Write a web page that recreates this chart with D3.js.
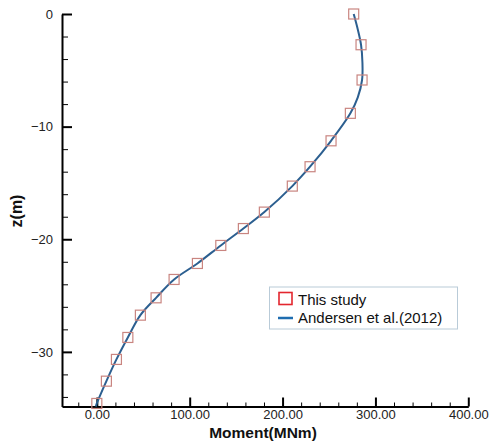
<!DOCTYPE html>
<html>
<head>
<meta charset="utf-8">
<script src="https://cdn.jsdelivr.net/npm/d3@7"></script>
<style>
  html, body { margin: 0; padding: 0; background: #fff; }
  svg { display: block; }
</style>
</head>
<body>
<svg id="chart" width="492" height="447"></svg>
<script>
// ---- Data ----
const studyMoment = [276.6, 284.5, 285.6, 273.0, 252.2, 229.6, 210.5, 180.4, 157.8, 133.5, 108.3, 83.2, 63.8, 46.9, 33.4, 21.1, 10.3, 0.0];
const studyZ      = [0, -2.73, -5.86, -8.82, -11.26, -13.56, -15.28, -17.59, -19.05, -20.55, -22.15, -23.57, -25.2, -26.74, -28.72, -30.67, -32.6, -34.58];

const andersenMoment = [276.6, 280.5, 284.5, 286.0, 285.6, 281.0, 273.0, 252.2, 229.6, 210.5, 180.4, 157.8, 133.5, 108.3, 83.2, 63.8, 46.9, 33.4, 21.1, 10.3, 0.0, -1.0];
const andersenZ      = [0, -1.2, -2.73, -4.3, -5.86, -7.4, -8.82, -11.26, -13.56, -15.28, -17.59, -19.05, -20.55, -22.15, -23.57, -25.2, -26.74, -28.72, -30.67, -32.6, -34.58, -34.85];

const xMajorTicks = [0, 100, 200, 300, 400];
const xMinorTicks = [-20, 20, 40, 60, 80, 120, 140, 160, 180, 220, 240, 260, 280, 320, 340, 360, 380];
const yMajorTicks = [0, -10, -20, -30];
const yMinorTicks = [-2, -4, -6, -8, -12, -14, -16, -18, -22, -24, -26, -28, -32, -34];

const xDomain = [-37.5, 400];
const yDomain = [-34.85, 0];

const legendLabels = ["This study", "Andersen et al.(2012)"];

// ---- Chart ----
const svg = d3.select("#chart");
const x = d3.scaleLinear().domain(xDomain).range([62, 468.3]);
const y = d3.scaleLinear().domain(yDomain).range([406.5, 14]);

const tickFont = "'Liberation Sans', Arial, sans-serif";

// x minor ticks
svg.append("g")
  .attr("transform", `translate(0,${y(yDomain[0])})`)
  .call(d3.axisBottom(x).tickValues(xMinorTicks).tickSize(-4).tickSizeOuter(0).tickFormat(""))
  .call(g => g.select(".domain").remove())
  .call(g => g.selectAll("line").attr("stroke", "#000").attr("stroke-width", 1));

// x major
svg.append("g")
  .attr("transform", `translate(0,${y(yDomain[0])})`)
  .call(d3.axisBottom(x).tickValues(xMajorTicks).tickSize(-9).tickSizeOuter(0).tickPadding(3).tickFormat(d3.format(".2f")))
  .call(g => g.select(".domain").attr("stroke", "#000").attr("stroke-width", 2))
  .call(g => g.selectAll("line").attr("stroke", "#000").attr("stroke-width", 2))
  .call(g => g.selectAll("text").attr("font-family", tickFont).attr("font-size", 13).attr("fill", "#222"));

// y minor ticks
svg.append("g")
  .attr("transform", `translate(${x(xDomain[0])},0)`)
  .call(d3.axisLeft(y).tickValues(yMinorTicks).tickSize(-6).tickSizeOuter(0).tickFormat(""))
  .call(g => g.select(".domain").remove())
  .call(g => g.selectAll("line").attr("stroke", "#000").attr("stroke-width", 1));

// y major
svg.append("g")
  .attr("transform", `translate(${x(xDomain[0])},0)`)
  .call(d3.axisLeft(y).tickValues(yMajorTicks).tickSize(-10).tickSizeOuter(0).tickPadding(9).tickFormat(d3.format("d")))
  .call(g => g.select(".domain").attr("stroke", "#000").attr("stroke-width", 2))
  .call(g => g.selectAll("line").attr("stroke", "#000").attr("stroke-width", 2))
  .call(g => g.selectAll("text").attr("font-family", tickFont).attr("font-size", 13).attr("fill", "#222"));

// line
const line = d3.line()
  .x((d, i) => x(andersenMoment[i]))
  .y((d, i) => y(andersenZ[i]))
  .curve(d3.curveCatmullRom.alpha(0.5));

svg.append("path")
  .datum(andersenZ)
  .attr("d", line)
  .attr("fill", "none")
  .attr("stroke", "#2c5f90")
  .attr("stroke-width", 2);

// markers
const ms = 10;
svg.append("g").selectAll("rect")
  .data(studyZ)
  .join("rect")
  .attr("x", (d, i) => x(studyMoment[i]) - ms / 2)
  .attr("y", d => y(d) - ms / 2)
  .attr("width", ms)
  .attr("height", ms)
  .attr("fill", "none")
  .attr("stroke", "#c98580")
  .attr("stroke-width", 1.2);

// axis titles
svg.append("text")
  .attr("x", 263).attr("y", 438)
  .attr("text-anchor", "middle")
  .attr("font-family", tickFont)
  .attr("font-weight", "bold")
  .attr("font-size", 15.5)
  .attr("fill", "#111")
  .text("Moment(MNm)");

svg.append("text")
  .attr("transform", "translate(22,211) rotate(-90)")
  .attr("text-anchor", "middle")
  .attr("font-family", tickFont)
  .attr("font-weight", "bold")
  .attr("font-size", 16)
  .attr("fill", "#111")
  .text("z(m)");

// legend
const lg = svg.append("g");
lg.append("rect")
  .attr("x", 269.5).attr("y", 287)
  .attr("width", 188).attr("height", 42)
  .attr("fill", "#fff")
  .attr("stroke", "#b9cbd8")
  .attr("stroke-width", 1);

lg.append("rect")
  .attr("x", 279).attr("y", 292.5)
  .attr("width", 13).attr("height", 12)
  .attr("fill", "none")
  .attr("stroke", "#e3262e")
  .attr("stroke-width", 1.6);

lg.append("line")
  .attr("x1", 278).attr("x2", 293)
  .attr("y1", 318).attr("y2", 318)
  .attr("stroke", "#1f6db0")
  .attr("stroke-width", 2.5);

lg.selectAll("text.leg")
  .data(legendLabels)
  .join("text")
  .attr("class", "leg")
  .attr("x", 298)
  .attr("y", (d, i) => 305 + i * 18)
  .attr("font-family", tickFont)
  .attr("font-size", 15)
  .attr("fill", "#111")
  .text(d => d);
</script>
</body>
</html>
